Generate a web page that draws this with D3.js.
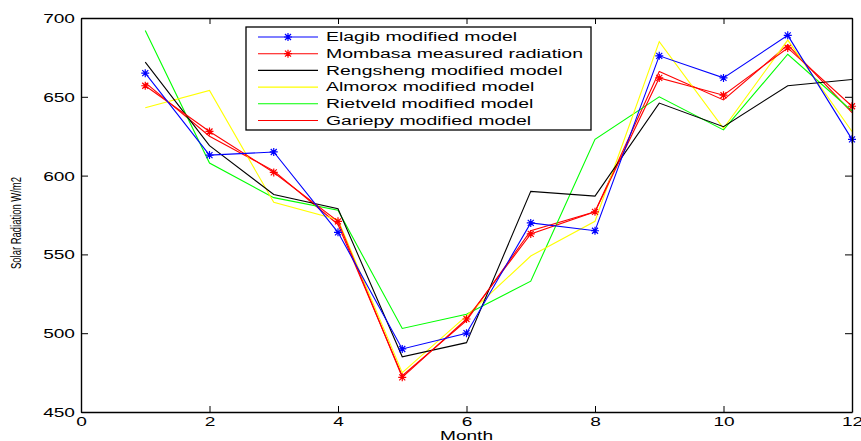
<!DOCTYPE html>
<meta charset="utf-8">
<script src="https://d3js.org/d3.v7.min.js"></script>
<style>
  body { margin: 0; background: #fff; }
  text { font-family: "Liberation Sans", Arial, sans-serif; fill: #000; }
</style>
<div id="chart"></div>
<script>

// months on the x axis
var months = [1, 2, 3, 4, 5, 6, 7, 8, 9, 10, 11, 12];

// series values (W/m2)
var elagib    = [665, 613, 615, 564, 490, 500, 570, 565, 676, 662, 689, 623];
var mombasa   = [657, 628, 602, 571, 472, 509, 563, 577, 662, 651, 681, 644];
var rengsheng = [672, 619, 588, 579, 485, 494, 590, 587, 646, 631, 657, 661];
var almorox   = [643, 654, 583, 572, 475, 511, 549, 571, 685, 630, 686, 628];
var rietveld  = [692, 608, 586, 578, 503, 512, 533, 623, 650, 629, 677, 641];
var gariepy   = [659, 625, 603, 569, 473, 508, 565, 577, 666, 648, 683, 640];

var xTicks = [0, 2, 4, 6, 8, 10, 12];
var yTicks = [450, 500, 550, 600, 650, 700];

var seriesNames = ["Elagib modified model", "Mombasa measured radiation", "Rengsheng modified model",
                   "Almorox modified model", "Rietveld modified model", "Gariepy modified model"];
var seriesColors = ["#0000ff", "#ff0000", "#000000", "#ffff00", "#00ff00", "#ff0000"];
var seriesStars = [true, true, false, false, false, false];

var series = [elagib, mombasa, rengsheng, almorox, rietveld, gariepy].map(function(vals, i) {
  return {
    name: seriesNames[i], color: seriesColors[i], star: seriesStars[i],
    values: vals.map(function(v, j) { return { x: months[j], y: v }; })
  };
});

var margin = {top: 18, right: 9, bottom: 29, left: 81},
    width = 861 - margin.left - margin.right,
    height = 441 - margin.top - margin.bottom;

// the original picture is stretched sideways, so text is too
var stretch = 1.47;

var svg = d3.select("#chart")
  .append("svg")
    .attr("width", 861)
    .attr("height", 441)
  .append("g")
    .attr("transform", "translate(" + margin.left + "," + margin.top + ")");

var x = d3.scaleLinear().domain([0, 12]).range([0, width]);
var y = d3.scaleLinear().domain([450, 700]).range([height, 0]);

// star marker like matlab '*'
var starPath = "M-4,0L4,0M0,-4L0,4M-3,-3L3,3M-3,3L3,-3";

// lines (drawn in reverse so blue/red end up on top)
var line = d3.line().x(function(d) { return x(d.x); }).y(function(d) { return y(d.y); });

series.slice().reverse().forEach(function(s) {
  svg.append("path")
    .datum(s.values)
    .attr("fill", "none")
    .attr("stroke", s.color)
    .attr("stroke-width", 1.1)
    .attr("d", line);
  if (s.star) {
    svg.selectAll(null)
      .data(s.values)
      .enter().append("path")
        .attr("d", starPath)
        .attr("transform", function(d) { return "translate(" + x(d.x) + "," + y(d.y) + ")"; })
        .attr("fill", "none")
        .attr("stroke", s.color)
        .attr("stroke-width", 1.2);
  }
});

// axes with inward ticks, box all round
var xAxis = svg.append("g")
  .attr("transform", "translate(0," + height + ")")
  .call(d3.axisBottom(x).tickValues(xTicks).tickSize(-6).tickSizeOuter(0));
xAxis.selectAll("text")
  .attr("y", 0).attr("dy", 0)
  .attr("transform", "translate(0,14) scale(" + stretch + ",1)")
  .style("font-size", "13px");

var yAxis = svg.append("g")
  .call(d3.axisLeft(y).tickValues(yTicks).tickSize(-7).tickSizeOuter(0));
yAxis.selectAll("text")
  .attr("x", 0).attr("dy", "0.35em")
  .attr("transform", "translate(-6,0) scale(" + stretch + ",1)")
  .style("font-size", "13px");

svg.append("g")
  .call(d3.axisTop(x).tickValues(xTicks).tickSize(-6).tickSizeOuter(0).tickFormat(""));
svg.append("g")
  .attr("transform", "translate(" + width + ",0)")
  .call(d3.axisRight(y).tickValues(yTicks).tickSize(-7).tickSizeOuter(0).tickFormat(""));

svg.selectAll(".domain").attr("stroke", "#000").attr("stroke-width", 1.4);
svg.selectAll(".tick line").attr("stroke", "#000");

// axis titles
svg.append("text")
  .attr("text-anchor", "middle")
  .attr("transform", "translate(" + (width / 2) + "," + (height + 28) + ") scale(" + stretch + ",1)")
  .style("font-size", "13px")
  .text("Month");

svg.append("text")
  .attr("text-anchor", "middle")
  .attr("textLength", 92)
  .attr("lengthAdjust", "spacingAndGlyphs")
  .attr("transform", "translate(" + (-margin.left + 21) + "," + (y(575) + 8) + ") scale(1.35,1) rotate(-90)")
  .style("font-size", "11px")
  .text("Solar Radiation W/m2");

// legend
var legend = svg.append("g")
  .attr("transform", "translate(" + (246 - margin.left) + "," + (27 - margin.top) + ")");

legend.append("rect")
  .attr("width", 345)
  .attr("height", 103)
  .attr("fill", "#fff")
  .attr("stroke", "#000")
  .attr("stroke-width", 1.3);

var rows = legend.selectAll(".row")
  .data(series)
  .enter().append("g")
    .attr("transform", function(d, i) { return "translate(0," + (10 + i * 16.7) + ")"; });

rows.append("line")
  .attr("x1", 12).attr("x2", 72)
  .attr("stroke", function(d) { return d.color; })
  .attr("stroke-width", 1.1);

rows.filter(function(d) { return d.star; })
  .append("path")
    .attr("d", starPath)
    .attr("transform", "translate(42,0)")
    .attr("fill", "none")
    .attr("stroke", function(d) { return d.color; })
    .attr("stroke-width", 1.2);

rows.append("text")
  .attr("transform", "translate(80,0) scale(1.62,1)")
  .attr("dy", "0.35em")
  .style("font-size", "12px")
  .text(function(d) { return d.name; });

</script>
